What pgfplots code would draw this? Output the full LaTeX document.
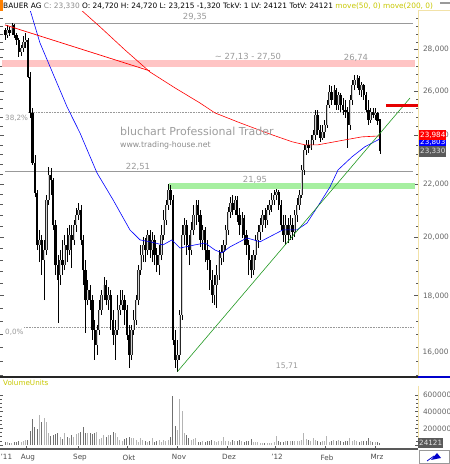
\documentclass[border=0pt]{standalone}
\usepackage{pgfplots}
\pgfplotsset{compat=1.18}
\usepackage{pgfplotstable}
\usepackage{fontspec}
\setmainfont{DejaVu Sans}
\definecolor{lblgrey}{HTML}{9A9A9A}
\definecolor{pinkband}{HTML}{FFC4C4}
\definecolor{greenband}{HTML}{A6EFA0}
\definecolor{axyellow}{HTML}{F2E2A8}
\definecolor{movey}{HTML}{C8C800}
\definecolor{uplight}{HTML}{D4D4D4}
\definecolor{volup}{HTML}{B4B4B4}
\definecolor{voldn}{HTML}{707070}
\definecolor{boxgrey}{HTML}{5A5A5A}
\definecolor{trendgreen}{HTML}{229922}

\pgfplotstableread{
i o h l c v
0 29.01 29.12 28.49 28.75 40000
1 28.75 29.27 28.59 29.01 32000
2 29.01 29.17 28.70 28.85 28000
3 28.85 29.35 28.75 29.27 24000
4 29.27 29.32 28.59 28.75 36000
5 28.75 28.85 28.24 28.49 40000
6 28.49 28.59 27.64 27.88 52000
7 27.88 28.24 27.69 28.08 40000
8 28.08 28.70 27.88 28.39 48000
9 28.39 28.85 28.08 28.49 56000
10 28.49 28.59 26.62 26.66 60000
11 26.66 26.90 24.77 24.99 168000
12 24.99 25.22 22.77 22.85 308000
13 22.85 23.18 21.49 21.65 216000
14 21.65 21.76 19.54 19.72 192000
15 19.72 20.26 19.12 19.90 360000
16 19.90 20.08 18.69 19.19 276000
17 19.19 19.90 17.86 19.54 324000
18 19.54 21.57 19.37 21.38 276000
19 21.38 22.69 21.19 22.36 144000
20 22.36 22.64 21.57 22.16 108000
21 22.16 22.24 20.26 20.44 116000
22 20.44 20.62 18.69 19.02 132000
23 19.02 19.37 17.14 18.52 144000
24 18.69 19.54 18.36 19.19 92000
25 19.19 19.90 18.69 19.02 72000
26 19.02 20.08 18.85 19.72 144000
27 19.72 20.33 19.12 19.54 100000
28 19.54 20.44 19.37 20.08 80000
29 20.08 20.44 18.92 19.90 120000
30 19.90 20.62 19.72 20.44 92000
31 20.44 21.08 20.19 20.81 128000
32 20.81 21.27 20.62 21.00 148000
33 21.00 21.19 19.72 19.90 160000
34 19.90 20.08 18.36 18.85 216000
35 18.85 19.19 16.84 17.86 144000
36 17.86 18.52 17.70 18.19 140000
37 18.19 18.36 17.55 17.86 148000
38 17.86 18.03 16.63 16.93 132000
39 16.93 17.23 16.04 16.48 144000
40 16.48 17.08 16.19 16.93 152000
41 16.93 17.86 16.78 17.55 72000
42 17.55 18.19 17.39 18.03 80000
43 18.03 18.62 17.86 18.36 120000
44 18.36 18.52 17.70 17.86 100000
45 17.86 18.29 17.55 18.03 120000
46 18.03 18.19 16.93 17.23 120000
47 17.23 17.55 16.48 16.78 152000
48 16.78 17.23 16.04 16.93 144000
49 16.93 18.03 16.78 17.55 100000
50 17.55 18.19 17.39 17.70 60000
51 17.70 18.19 17.55 17.86 52000
52 17.86 18.03 17.08 17.55 68000
53 17.55 17.70 16.63 16.78 90000
54 16.78 17.08 15.81 16.19 100000
55 16.19 17.08 16.04 16.93 80000
56 16.93 17.55 16.78 17.23 88000
57 17.23 18.03 17.08 17.86 60000
58 17.86 19.02 17.70 18.85 40000
59 18.85 19.72 18.69 19.37 80000
60 19.37 20.01 19.12 19.72 60000
61 19.72 19.97 19.12 19.54 52000
62 19.54 20.26 19.37 20.08 36000
63 20.08 20.26 19.26 19.54 48000
64 19.54 20.19 19.12 19.90 80000
65 19.90 20.08 19.02 19.37 40000
66 19.37 19.61 18.78 19.02 48000
67 19.02 19.72 18.69 19.37 60000
68 19.37 20.44 19.19 20.08 40000
69 20.08 21.00 19.90 20.62 60000
70 20.62 21.38 20.44 21.19 52000
71 21.19 22.00 21.00 21.76 60000
72 21.76 21.96 21.19 21.38 100000
73 21.38 21.57 16.48 16.63 588000
74 16.63 16.93 15.81 16.04 228000
75 16.04 16.63 15.71 16.19 180000
76 16.19 17.55 16.04 17.39 552000
77 17.39 20.44 17.23 20.08 408000
78 20.08 20.70 19.72 20.44 144000
79 20.44 20.62 19.37 19.72 120000
80 19.72 20.08 19.02 19.54 80000
81 19.54 20.55 19.37 20.26 60000
82 20.26 21.19 20.08 20.81 68000
83 20.81 21.38 20.44 21.19 80000
84 21.19 21.38 20.55 20.81 40000
85 20.81 21.00 19.65 19.90 36000
86 19.90 20.44 19.54 20.26 44000
87 20.26 20.37 19.12 19.54 40000
88 19.54 19.90 18.85 19.19 48000
89 19.19 19.54 18.19 18.52 52000
90 18.52 18.85 17.77 18.03 60000
91 18.03 18.69 17.70 18.36 44000
92 18.36 19.02 17.61 18.69 40000
93 18.69 19.54 18.52 19.37 48000
94 19.26 19.72 19.02 19.47 52000
95 19.47 19.90 19.12 19.72 92000
96 19.72 20.44 19.54 20.26 48000
97 20.26 21.12 20.08 20.92 48000
98 20.92 21.49 20.70 21.27 40000
99 21.27 21.57 20.81 21.00 60000
100 21.00 21.53 20.81 21.38 52000
101 21.38 21.53 20.55 20.81 44000
102 20.81 21.08 20.08 20.44 60000
103 20.44 20.92 19.97 20.70 48000
104 20.70 20.81 19.72 20.08 40000
105 20.08 20.26 19.37 19.72 52000
106 19.72 19.90 18.69 19.19 44000
107 19.19 19.37 18.59 18.85 68000
108 18.85 19.54 18.69 19.37 40000
109 19.37 20.08 19.19 19.90 36000
110 19.90 20.44 19.61 20.19 32000
111 20.19 20.70 19.90 20.44 28000
112 20.44 21.00 20.19 20.81 28000
113 20.81 21.08 20.33 20.62 24000
114 20.62 21.19 20.44 21.00 28000
115 21.00 21.38 20.81 21.19 24000
116 21.19 21.65 20.92 21.38 28000
117 21.38 21.76 21.19 21.57 32000
118 21.57 21.80 21.38 21.69 108000
119 21.69 21.76 21.00 21.19 48000
120 21.19 21.38 20.26 20.44 36000
121 20.44 20.81 19.83 20.08 40000
122 20.08 20.81 19.72 20.44 48000
123 20.44 20.70 19.79 20.08 44000
124 20.08 20.81 19.90 20.44 48000
125 20.44 20.70 19.90 20.19 52000
126 20.19 21.00 20.01 20.81 44000
127 20.81 21.46 20.55 21.19 48000
128 21.19 21.76 21.00 21.57 52000
129 21.57 22.77 21.46 22.56 60000
130 22.56 23.60 22.36 23.39 144000
131 23.39 23.81 23.18 23.60 68000
132 23.60 23.81 23.26 23.47 60000
133 23.47 24.02 23.39 23.81 48000
134 23.81 24.24 23.60 24.02 80000
135 24.02 25.13 23.81 24.90 60000
136 24.90 25.13 24.02 24.24 44000
137 24.24 24.46 23.73 23.90 40000
138 23.90 24.46 23.81 24.15 48000
139 24.15 24.68 23.90 24.46 44000
140 24.46 25.58 24.33 25.35 108000
141 25.35 26.28 25.22 25.95 40000
142 25.95 26.23 25.35 25.58 52000
143 25.58 26.28 25.35 26.04 60000
144 26.04 26.14 25.13 25.35 48000
145 25.35 25.95 25.13 25.81 60000
146 25.81 25.90 25.04 25.35 44000
147 25.35 25.67 24.90 25.13 40000
148 25.13 25.58 24.77 25.04 48000
149 25.04 25.26 23.47 24.46 52000
150 24.46 25.81 24.24 25.58 80000
151 25.58 26.52 25.35 26.28 52000
152 26.28 26.74 26.04 26.52 60000
153 26.52 26.74 26.14 26.62 44000
154 26.62 26.71 25.81 26.04 40000
155 26.04 26.42 25.72 26.28 44000
156 26.28 26.33 25.58 25.81 48000
157 25.81 25.95 25.04 25.13 44000
158 25.13 25.58 24.46 24.68 80000
159 24.68 25.22 24.55 25.04 48000
160 25.04 25.22 24.77 24.90 40000
161 24.90 25.22 24.68 24.99 32000
162 24.99 25.04 24.46 24.65 36000
163 24.72 24.72 23.215 23.33 24121
}\candles

% split the table rows into up and down candles (coordinate lists built from the table)
\gdef\allW{}\gdef\dnB{}\gdef\upB{}\gdef\dnV{}\gdef\upV{}
\pgfplotsforeachungrouped \r in {0,...,163}{%
  \pgfplotstablegetelem{\r}{i}\of\candles \let\vi\pgfplotsretval
  \pgfplotstablegetelem{\r}{o}\of\candles \let\vo\pgfplotsretval
  \pgfplotstablegetelem{\r}{h}\of\candles \let\vh\pgfplotsretval
  \pgfplotstablegetelem{\r}{l}\of\candles \let\vl\pgfplotsretval
  \pgfplotstablegetelem{\r}{c}\of\candles \let\vc\pgfplotsretval
  \pgfplotstablegetelem{\r}{v}\of\candles \let\vv\pgfplotsretval
  \xdef\allW{\allW (\vi,\vl) (\vi,\vh) (nan,20)}%
  \ifdim\vc pt<\vo pt
    \xdef\dnB{\dnB (\vi,\vc) (\vi,\vo) (nan,20)}%
    \xdef\dnV{\dnV (\vi,\vv)}%
  \else
    \xdef\upB{\upB (\vi,\vo) (\vi,\vc) (nan,20)}%
    \xdef\upV{\upV (\vi,\vv)}%
  \fi
}

\begin{document}
\begin{tikzpicture}
\useasboundingbox (0pt,0pt) rectangle (450pt,464pt);
\fill[white] (0pt,0pt) rectangle (450pt,464pt);
% ---------------- price panel (logarithmic price scale via coordinate transformation)
\begin{axis}[
  at={(0pt,86pt)}, anchor=south west, scale only axis,
  width=418pt, height=366pt,
  xmin=-2.174, xmax=179.57,
  y coord trafo/.code={\pgfmathparse{ln(#1)}},
  y coord inv trafo/.code={\pgfmathparse{exp(#1)}},
  ymin=15.53, ymax=29.96,
  axis line style={draw=none},
  xtick=\empty,
  ytick={18,20,22,24,26,28},
  yticklabels={{18,000},{20,000},{22,000},{24,000},{26,000},{28,000}},
  minor ytick={15.6,16,16.4,16.8,17.2,17.6,18.4,18.8,19.2,19.6,20.4,20.8,21.2,21.6,22.4,22.8,23.2,23.6,24.4,24.8,25.2,25.6,26.4,26.8,27.2,27.6,28.4,28.8,29.2,29.6},
  ytick pos=both, yticklabel pos=right,
  tick align=inside, major tick length=4pt, minor tick length=2.5pt,
  tick style={black!65, line width=0.5pt},
  yticklabel style={font=\fontsize{7.4}{8}\selectfont, text=black!60, xshift=1.5pt},
  unbounded coords=jump,
]
% bands (drawn as thick horizontal strokes)
\addplot[pinkband, line width=7pt] coordinates {(-1.3,27.31) (178.3,27.31)};
\addplot[greenband, line width=6pt] coordinates {(71.3,21.92) (178.3,21.92)};
% horizontal lines
\addplot[black!40, line width=0.8pt] coordinates {(0,29.35) (177.4,29.35)};
\addplot[black!40, line width=0.8pt] coordinates {(0,22.51) (177.4,22.51)};
\addplot[black!40, densely dotted, line width=0.6pt] coordinates {(10,25.0) (177.4,25.0)};
\addplot[black!40, densely dotted, line width=0.6pt] coordinates {(8.3,17.02) (177.4,17.02)};
% candles
\edef\tmp{\noexpand\addplot[black, line width=0.7pt, mark=none] coordinates {\allW};}\tmp
\edef\tmp{\noexpand\addplot[black, line width=2.3pt, mark=none] coordinates {\dnB};}\tmp
\edef\tmp{\noexpand\addplot[black!85, line width=2.3pt, mark=none] coordinates {\upB};}\tmp
\edef\tmp{\noexpand\addplot[uplight, line width=0.9pt, mark=none] coordinates {\upB};}\tmp
% moving averages
\addplot[red, line width=0.6pt] coordinates {
(32.6,30.12) (41.3,29.17) (52.2,27.98) (63.0,26.90) (73.9,26.14) (84.8,25.44)
(91.3,24.99) (102.2,24.55) (115.2,24.06) (124.8,23.73) (130.4,23.60) (136.1,23.60)
(147.8,23.81) (155.2,23.94) (163,23.98)};
\addplot[blue, line width=0.6pt] coordinates {
(10.9,30.07) (15.2,28.34) (19.6,27.15) (27,25.26) (32.6,24.11) (40,22.44) (47,21.38)
(54.3,20.26) (58.7,19.90) (63,19.83) (68.7,19.72) (72.6,19.90) (76.1,19.61) (82.6,19.72)
(87,19.79) (91.3,19.54) (94.3,19.44) (97.8,19.65) (105.2,19.97) (110.9,19.83) (120.9,20.26)
(127,20.26) (131.3,20.51) (137,21.27) (141.3,21.88) (144.8,22.56) (150.9,23.10)
(156.5,23.52) (163,23.85)};
% trend lines
\addplot[red, line width=0.7pt] coordinates {(0,29.27) (63,26.95)};
\addplot[trendgreen, line width=0.6pt] coordinates {(75,15.71) (176.1,25.67)};
\addplot[red!90!black, line width=3pt] coordinates {(165.7,25.31) (179.6,25.31)};
\end{axis}
% ---------------- volume panel
\begin{axis}[
  at={(0pt,15pt)}, anchor=south west, scale only axis,
  width=418pt, height=69pt,
  xmin=-2.174, xmax=179.57, ymin=-48000, ymax=780000,
  axis line style={draw=none},
  xtick={9.13,31.74,53.04,74.78,96.52,117.39,139.13,160.87},
  xticklabels={Aug,Sep,Okt,Nov,Dez,'12,Feb,Mrz},
  xtick pos=left,
  xticklabel style={font=\fontsize{7.2}{8}\selectfont, text=black!70, xshift=2pt, yshift=-2pt},
  ytick={0,200000,400000,600000},
  yticklabels={0,200000,400000,600000},
  scaled y ticks=false,
  minor y tick num=3,
  ytick pos=both, yticklabel pos=right,
  tick align=inside, major tick length=3pt, minor tick length=2pt,
  tick style={black!65, line width=0.5pt},
  yticklabel style={font=\fontsize{7.4}{8}\selectfont, text=black!60, xshift=1.5pt},
]
\edef\tmp{\noexpand\addplot[ycomb, line width=1pt, volup, mark=none] coordinates {\upV};}\tmp
\edef\tmp{\noexpand\addplot[ycomb, line width=1pt, voldn, mark=none] coordinates {\dnV};}\tmp
\end{axis}
% ---------------- frame details and texts
\begin{scope}[x=1pt,y=1pt]
\draw[axyellow, line width=1pt] (450,453) -- (418,453) -- (418,87);
\draw[axyellow, line width=1pt] (418,78) -- (418,16);
\draw[black!85, line width=1.6pt] (0,87) -- (418,87);
\draw[blue!80!black, line width=1.6pt] (418,87) -- (450,87);
\draw[black!65, line width=1.4pt] (0,15) -- (418,15);
\draw[black!40, line width=0.6pt] (419,1) rectangle (449,14);
\fill[blue!80!black] (431,4) -- (437,11) -- (441,6) -- cycle;
\draw[blue!80!black, line width=0.8pt] (427,3) -- (434,8);
\fill[orange] (0,453) rectangle (2.5,464);
\draw[black!40, line width=0.5pt] (440,462) -- (450,462);
\draw[black!40, line width=0.5pt] (440,460.5) -- (450,460.5);
\node[anchor=west, inner sep=0pt, font=\fontsize{7.4}{8}\selectfont] at (3,458)
 {BAUER AG \textcolor{black!45}{C: 23,330} O: 24,720 H: 24,720 L: 23,215 -1,320 TckV: 1 LV: 24121 TotV: 24121 \textcolor{movey}{move(50, 0) move(200, 0)}};
\begin{scope}[every node/.style={text=lblgrey, inner sep=0pt}]
\node[font=\fontsize{8.4}{9}\selectfont] at (195,447) {29,35};
\node[font=\fontsize{8.4}{9}\selectfont] at (248,407) {\char"223C{} 27,13 - 27,50};
\node[font=\fontsize{8.4}{9}\selectfont] at (356,406) {26,74};
\node[font=\fontsize{7.2}{8}\selectfont, anchor=west] at (5,346) {38,2\%};
\node[font=\fontsize{8.4}{9}\selectfont] at (138,297) {22,51};
\node[font=\fontsize{8.4}{9}\selectfont] at (255,284) {21,95};
\node[font=\fontsize{7.2}{8}\selectfont, anchor=west] at (5,132) {0,0\%};
\node[font=\fontsize{7.7}{8}\selectfont] at (287,98) {15,71};
\node[font=\fontsize{11}{12}\selectfont, anchor=west, text=black!38] at (120,333) {bluchart Professional Trader};
\node[font=\fontsize{7.8}{9}\selectfont, anchor=west, text=black!45] at (120,319) {www.trading-house.net};
\end{scope}
\node[anchor=west, inner sep=0pt, font=\fontsize{7.4}{8}\selectfont, text=black!60] at (422.5,112) {16,000};
\node[anchor=west, inner sep=0pt, font=\fontsize{7.2}{8}\selectfont, text=movey] at (3,81) {VolumeUnits};
\node[anchor=west, inner sep=0pt, font=\fontsize{7.2}{8}\selectfont, text=black!70] at (0.5,7) {'11};
\fill[blue] (419,318) rectangle (446,326);
\node[anchor=west, inner sep=0pt, font=\fontsize{7.2}{8}\selectfont, text=white] at (420,322) {23,803};
\fill[red] (419,324) rectangle (446,334);
\node[anchor=west, inner sep=0pt, font=\fontsize{7.2}{8}\selectfont, text=white] at (420,329) {23,984};
\fill[boxgrey] (419,307) rectangle (446,318);
\node[anchor=west, inner sep=0pt, font=\fontsize{7.2}{8}\selectfont, text=black!12] at (420,312.5) {23,330};
\fill[boxgrey] (418,16) rectangle (443,26);
\node[anchor=west, inner sep=0pt, font=\fontsize{7.2}{8}\selectfont, text=black!10] at (419,21) {24121};
\end{scope}
\end{tikzpicture}
\end{document}
